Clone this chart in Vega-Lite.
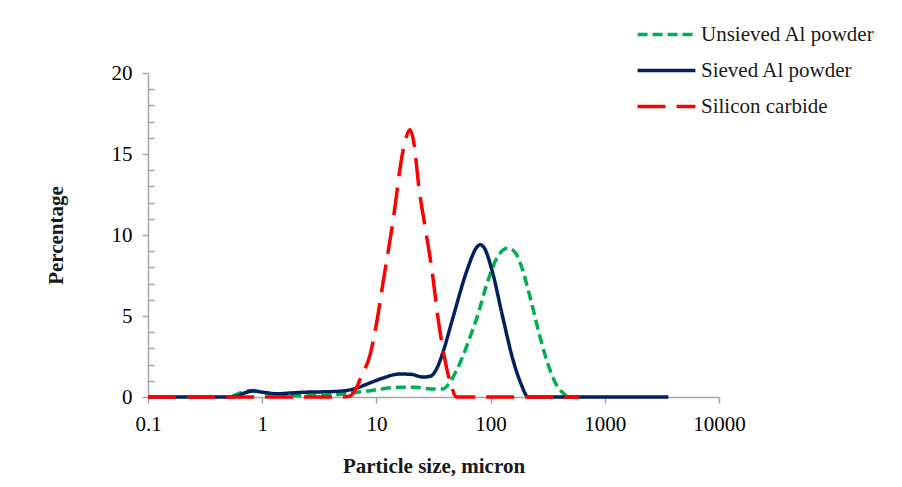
{
  "$schema": "https://vega.github.io/schema/vega-lite/v6.json",
  "width": 571,
  "height": 324,
  "autosize": {"type": "none"},
  "padding": {"left": 148, "top": 73, "right": 183, "bottom": 90},
  "background": "white",
  "config": {
    "view": {"stroke": null},
    "font": "Liberation Serif",
    "axis": {"grid": false, "domainColor": "#a6a6a6", "tickColor": "#a6a6a6", "domainWidth": 1.5, "tickWidth": 1.5, "labelFont": "Liberation Serif", "labelFontSize": 21, "labelColor": "#000000", "titleFont": "Liberation Serif", "titleFontSize": 21, "titleFontWeight": "bold", "titleColor": "#1a1a1a"}
  },
  "datasets": {
    "psd": [
      {"series": "Unsieved Al powder", "size": 0.55, "pct": 0.05},
      {"series": "Unsieved Al powder", "size": 0.68, "pct": 0.3},
      {"series": "Unsieved Al powder", "size": 0.8, "pct": 0.4},
      {"series": "Unsieved Al powder", "size": 1.0, "pct": 0.3},
      {"series": "Unsieved Al powder", "size": 1.3, "pct": 0.15},
      {"series": "Unsieved Al powder", "size": 2, "pct": 0.1},
      {"series": "Unsieved Al powder", "size": 3, "pct": 0.1},
      {"series": "Unsieved Al powder", "size": 4.5, "pct": 0.15},
      {"series": "Unsieved Al powder", "size": 6, "pct": 0.25},
      {"series": "Unsieved Al powder", "size": 8, "pct": 0.35},
      {"series": "Unsieved Al powder", "size": 11, "pct": 0.5},
      {"series": "Unsieved Al powder", "size": 16, "pct": 0.6},
      {"series": "Unsieved Al powder", "size": 22, "pct": 0.6},
      {"series": "Unsieved Al powder", "size": 30, "pct": 0.5},
      {"series": "Unsieved Al powder", "size": 38, "pct": 0.5},
      {"series": "Unsieved Al powder", "size": 44, "pct": 0.9},
      {"series": "Unsieved Al powder", "size": 50, "pct": 1.6},
      {"series": "Unsieved Al powder", "size": 57, "pct": 2.5},
      {"series": "Unsieved Al powder", "size": 66, "pct": 3.7},
      {"series": "Unsieved Al powder", "size": 76, "pct": 4.9},
      {"series": "Unsieved Al powder", "size": 93, "pct": 7.0},
      {"series": "Unsieved Al powder", "size": 114, "pct": 8.6},
      {"series": "Unsieved Al powder", "size": 142, "pct": 9.2},
      {"series": "Unsieved Al powder", "size": 165, "pct": 8.9},
      {"series": "Unsieved Al powder", "size": 181, "pct": 8.3},
      {"series": "Unsieved Al powder", "size": 221, "pct": 6.2},
      {"series": "Unsieved Al powder", "size": 271, "pct": 3.7},
      {"series": "Unsieved Al powder", "size": 331, "pct": 1.67},
      {"series": "Unsieved Al powder", "size": 380, "pct": 0.7},
      {"series": "Unsieved Al powder", "size": 431, "pct": 0.25},
      {"series": "Unsieved Al powder", "size": 480, "pct": 0.0},
      {"series": "Unsieved Al powder", "size": 500, "pct": 0.0},
      {"series": "Sieved Al powder", "size": 0.1, "pct": 0},
      {"series": "Sieved Al powder", "size": 0.5, "pct": 0},
      {"series": "Sieved Al powder", "size": 0.6, "pct": 0.05},
      {"series": "Sieved Al powder", "size": 0.7, "pct": 0.25},
      {"series": "Sieved Al powder", "size": 0.83, "pct": 0.37},
      {"series": "Sieved Al powder", "size": 1.0, "pct": 0.3},
      {"series": "Sieved Al powder", "size": 1.35, "pct": 0.2},
      {"series": "Sieved Al powder", "size": 1.8, "pct": 0.25},
      {"series": "Sieved Al powder", "size": 2.45, "pct": 0.3},
      {"series": "Sieved Al powder", "size": 3.5, "pct": 0.32},
      {"series": "Sieved Al powder", "size": 5.1, "pct": 0.37},
      {"series": "Sieved Al powder", "size": 6.7, "pct": 0.55},
      {"series": "Sieved Al powder", "size": 9, "pct": 0.9},
      {"series": "Sieved Al powder", "size": 11.4, "pct": 1.17},
      {"series": "Sieved Al powder", "size": 16, "pct": 1.42},
      {"series": "Sieved Al powder", "size": 20, "pct": 1.4},
      {"series": "Sieved Al powder", "size": 25.7, "pct": 1.23},
      {"series": "Sieved Al powder", "size": 30, "pct": 1.3},
      {"series": "Sieved Al powder", "size": 34, "pct": 1.8},
      {"series": "Sieved Al powder", "size": 38, "pct": 2.7},
      {"series": "Sieved Al powder", "size": 46.8, "pct": 4.9},
      {"series": "Sieved Al powder", "size": 62, "pct": 7.8},
      {"series": "Sieved Al powder", "size": 76, "pct": 9.26},
      {"series": "Sieved Al powder", "size": 80.7, "pct": 9.4},
      {"series": "Sieved Al powder", "size": 88, "pct": 9.2},
      {"series": "Sieved Al powder", "size": 103, "pct": 7.8},
      {"series": "Sieved Al powder", "size": 128, "pct": 4.9},
      {"series": "Sieved Al powder", "size": 157, "pct": 2.3},
      {"series": "Sieved Al powder", "size": 185, "pct": 0.8},
      {"series": "Sieved Al powder", "size": 208, "pct": 0.05},
      {"series": "Sieved Al powder", "size": 215, "pct": 0},
      {"series": "Sieved Al powder", "size": 3600, "pct": 0},
      {"series": "Silicon carbide", "size": 0.1, "pct": 0},
      {"series": "Silicon carbide", "size": 5, "pct": 0},
      {"series": "Silicon carbide", "size": 5.8, "pct": 0.05},
      {"series": "Silicon carbide", "size": 6.5, "pct": 0.4},
      {"series": "Silicon carbide", "size": 7.3, "pct": 1.2},
      {"series": "Silicon carbide", "size": 8.8, "pct": 2.6},
      {"series": "Silicon carbide", "size": 10, "pct": 4.5},
      {"series": "Silicon carbide", "size": 11.4, "pct": 7.0},
      {"series": "Silicon carbide", "size": 14, "pct": 10.9},
      {"series": "Silicon carbide", "size": 17.1, "pct": 15.2},
      {"series": "Silicon carbide", "size": 19.7, "pct": 16.5},
      {"series": "Silicon carbide", "size": 21.5, "pct": 15.5},
      {"series": "Silicon carbide", "size": 23.5, "pct": 13.0},
      {"series": "Silicon carbide", "size": 26.7, "pct": 10.5},
      {"series": "Silicon carbide", "size": 30.7, "pct": 7.8},
      {"series": "Silicon carbide", "size": 34.6, "pct": 4.9},
      {"series": "Silicon carbide", "size": 39.8, "pct": 2.3},
      {"series": "Silicon carbide", "size": 45.7, "pct": 0.6},
      {"series": "Silicon carbide", "size": 50, "pct": 0},
      {"series": "Silicon carbide", "size": 600, "pct": 0}
    ]
  },
  "data": {"name": "psd"},
  "encoding": {
    "x": {
      "field": "size", "type": "quantitative",
      "scale": {"type": "log", "domain": [0.1, 10000], "nice": false},
      "axis": {"values": [0.1, 1, 10, 100, 1000, 10000], "labelExpr": "'' + datum.value", "tickSize": 6, "labelPadding": 10, "title": "Particle size, micron", "titlePadding": 21, "labelFlush": false}
    },
    "y": {
      "field": "pct", "type": "quantitative",
      "scale": {"domain": [0, 20], "nice": false},
      "axis": {
        "values": [0,1,2,3,4,5,6,7,8,9,10,11,12,13,14,15,16,17,18,19,20],
        "tickSize": {"condition": {"test": "datum.value % 5 === 0", "value": 6}, "value": -6},
        "labelExpr": "datum.value % 5 === 0 ? datum.label : ''",
        "labelPadding": 10,
        "title": "Percentage", "titlePadding": 45
      }
    },
    "color": {
      "field": "series", "type": "nominal",
      "scale": {"domain": ["Unsieved Al powder", "Sieved Al powder", "Silicon carbide"], "range": ["#00b050", "#002060", "#ff0000"]},
      "legend": {"title": null, "orient": "none", "legendX": 493, "legendY": -64, "symbolType": "M-1.22,0H1.22", "symbolSize": 2250, "symbolStrokeWidth": 3.5, "labelFont": "Liberation Serif", "labelFontSize": 21, "labelColor": "#1a1a1a", "rowPadding": 0, "labelOffset": 9, "labelLimit": 300}
    },
    "strokeDash": {
      "field": "series", "type": "nominal",
      "scale": {"domain": ["Unsieved Al powder", "Sieved Al powder", "Silicon carbide"], "range": [[10, 5], [1, 0], [28, 11]]},
      "legend": null
    }
  },
  "layer": [
    {"transform": [{"filter": "datum.series === 'Unsieved Al powder'"}], "mark": {"type": "line", "interpolate": "monotone", "strokeWidth": 3.5}},
    {"transform": [{"filter": "datum.series === 'Sieved Al powder'"}], "mark": {"type": "line", "interpolate": "monotone", "strokeWidth": 3.5}},
    {"transform": [{"filter": "datum.series === 'Silicon carbide'"}], "mark": {"type": "line", "interpolate": "monotone", "strokeWidth": 3.5}}
  ]
}
